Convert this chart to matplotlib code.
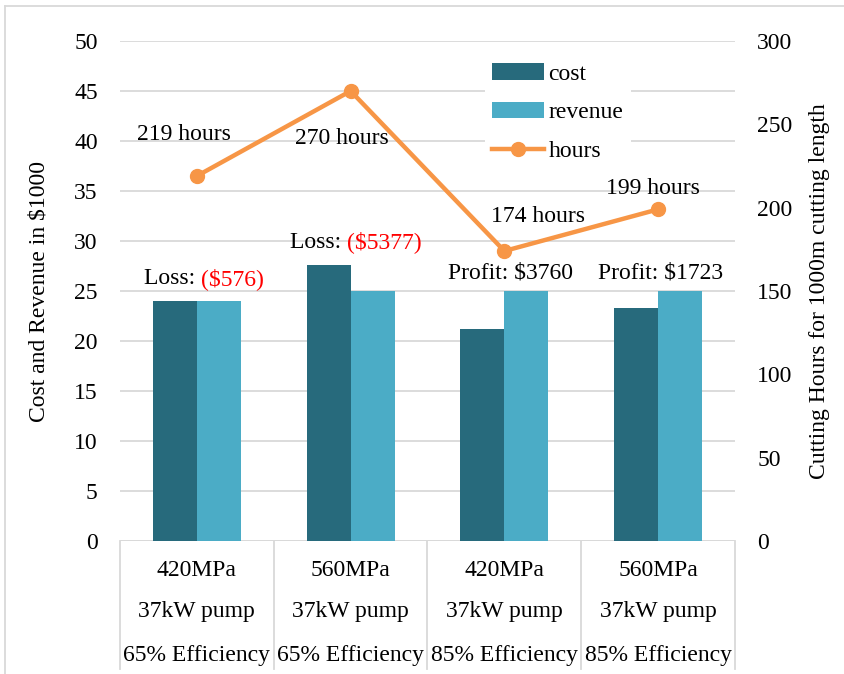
import matplotlib.pyplot as plt
from matplotlib.lines import Line2D
import numpy as np

plt.rcParams['font.family'] = ['Liberation Serif', 'DejaVu Serif']
plt.rcParams['font.size'] = 17

categories = [["420MPa", "37kW pump", "65% Efficiency"],
              ["560MPa", "37kW pump", "65% Efficiency"],
              ["420MPa", "37kW pump", "85% Efficiency"],
              ["560MPa", "37kW pump", "85% Efficiency"]]
cost = [24.0, 27.6, 21.25, 23.3]
revenue = [24.0, 25.0, 25.0, 25.0]
hours = [219, 270, 174, 199]
hour_labels = ["219 hours", "270 hours", "174 hours", "199 hours"]

cost_color = '#276A7C'
rev_color = '#4BACC6'
line_color = '#F79646'
grid_color = '#D9D9D9'

fig = plt.figure(figsize=(8.45, 6.74), dpi=100)
ax = fig.add_axes([120/845, 1-541/674, 615/845, 500/674])
ax2 = ax.twinx()

x = np.arange(len(categories))
w = 0.286
ax.bar(x - w/2, cost, w, color=cost_color, label='cost', zorder=3)
ax.bar(x + w/2, revenue, w, color=rev_color, label='revenue', zorder=3)

ax.set_xlim(-0.5, 3.5)
ax.set_ylim(0, 50)
ax.set_yticks(range(0, 51, 5))
ax.yaxis.grid(True, color=grid_color, linewidth=1.3)
ax.set_axisbelow(True)
ax.set_xticks([])
for s in ax.spines.values():
    s.set_visible(False)
ax.tick_params(axis='y', length=0, pad=16)
ax.set_ylabel("Cost and Revenue in $1000", labelpad=18)

ax2.plot(x, hours, color=line_color, linewidth=3.2, marker='o', markersize=10, label='hours', zorder=4)
ax2.set_ylim(0, 300)
ax2.set_yticks(range(0, 301, 50))
for s in ax2.spines.values():
    s.set_visible(False)
ax2.tick_params(axis='y', length=0, pad=16)
ax2.set_ylabel("Cutting Hours for 1000m cutting length", labelpad=12)

# hour labels
offsets = [(-13, 42), (-9, -47), (34, 34), (-5, 21)]
for xi, h, lab, off in zip(x, hours, hour_labels, offsets):
    ax2.annotate(lab, (xi, h), xytext=off, textcoords='offset pixels',
                 ha='center', va='center')

# profit / loss labels
ax.text(0.027, 26.2, "Loss: ", ha='right', va='center')
ax.text(0.027, 26.2, "($576)", ha='left', va='center', color='red')
ax.text(0.976, 29.9, "Loss: ", ha='right', va='center')
ax.text(0.976, 29.9, "($5377)", ha='left', va='center', color='red')
ax.text(2.037, 26.8, "Profit: $3760", ha='center', va='center')
ax.text(3.019, 26.8, "Profit: $1723", ha='center', va='center')

# category axis
ax.axhline(0, color=grid_color, linewidth=1.3, zorder=2)
for i in range(len(categories) + 1):
    ax.add_line(Line2D([i - 0.5, i - 0.5], [0, -12.8], color=grid_color,
                       linewidth=1.3, clip_on=False))
row_y = [-3.0, -7.1, -11.4]
for i, lines in enumerate(categories):
    for ty, t in zip(row_y, lines):
        ax.text(i, ty, t, ha='center', va='center', clip_on=False)

# legend
leg = ax2.legend(handles=[ax.patches[0], ax.patches[4], ax2.lines[0]],
                 labels=['cost', 'revenue', 'hours'],
                 loc='upper left', bbox_to_anchor=(0.574, 0.993),
                 frameon=True, facecolor='white', edgecolor='none',
                 framealpha=1, fancybox=False, handlelength=2.2,
                 handletextpad=0.2, labelspacing=0.72, borderpad=0.3)

# chart area border
fig.add_artist(Line2D([5/845, 5/845], [0, 1 - 6/674], color=grid_color, linewidth=1.3))
fig.add_artist(Line2D([5/845, 1], [1 - 6/674, 1 - 6/674], color=grid_color, linewidth=1.3))

fig.savefig('out.png', dpi=100)
